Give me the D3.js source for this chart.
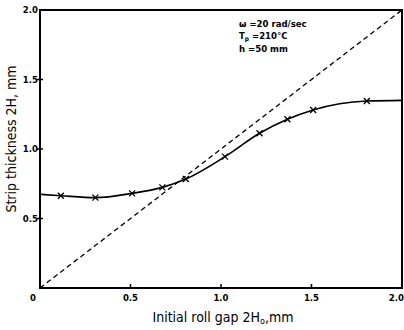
<!DOCTYPE html>
<html>
<head>
<meta charset="utf-8">
<script src="https://cdn.jsdelivr.net/npm/d3@7"></script>
<style>
  body { margin: 0; background: #fff; }
  svg { display: block; }
  .tick-label { font-family: "DejaVu Sans Condensed", "Liberation Sans Narrow", sans-serif; font-weight: bold; font-size: 9.5px; }
  .title { font-family: "DejaVu Sans Condensed", "Liberation Sans Narrow", sans-serif; font-size: 14px; }
  .note { font-family: "DejaVu Sans Condensed", sans-serif; font-weight: bold; font-size: 9.5px; }
</style>
</head>
<body>
<div id="chart"></div>
<script>
// measured curve: initial roll gap 2Ho (mm) vs strip thickness 2H (mm)
const gapValues = [0, 0.115, 0.306, 0.509, 0.676, 0.806, 1.022, 1.213, 1.367, 1.509, 1.806, 2.0];
const thicknessValues = [0.674, 0.664, 0.650, 0.681, 0.724, 0.784, 0.945, 1.113, 1.214, 1.281, 1.345, 1.35];
// indices of points drawn with an "x" marker
const markedPoints = [1, 2, 3, 4, 5, 6, 7, 8, 9, 10];
// 2H = 2Ho reference line
const refLine = [0, 2];

const xTicks = [0, 0.5, 1.0, 1.5, 2.0];
const xTickLabels = ['0', '0.5', '1.0', '1.5', '2.0'];
const yTicks = [0.5, 1.0, 1.5, 2.0];
const yTickLabels = ['0.5', '1.0', '1.5', '2.0'];

const W = 404, H = 330;
const margin = { top: 10, right: 2, bottom: 42, left: 40 };

const svg = d3.select('#chart').append('svg')
  .attr('width', W)
  .attr('height', H);

const x = d3.scaleLinear().domain([0, 2]).range([margin.left, W - margin.right]);
const y = d3.scaleLinear().domain([0, 2]).range([H - margin.bottom, margin.top]);

// frame
svg.append('rect')
  .attr('x', x(0)).attr('y', y(2))
  .attr('width', x(2) - x(0)).attr('height', y(0) - y(2))
  .attr('fill', 'none').attr('stroke', '#000').attr('stroke-width', 2);

// ticks
svg.selectAll('.xtick').data(xTicks.slice(1, -1)).enter().append('line')
  .attr('x1', d => x(d)).attr('x2', d => x(d))
  .attr('y1', y(0)).attr('y2', y(0) - 4)
  .attr('stroke', '#000').attr('stroke-width', 1.5);
svg.selectAll('.ytick').data(yTicks.slice(0, -1)).enter().append('line')
  .attr('x1', x(0) - 3).attr('x2', x(0) + 3)
  .attr('y1', d => y(d)).attr('y2', d => y(d))
  .attr('stroke', '#000').attr('stroke-width', 1.5);

// tick labels
svg.selectAll('.xl').data(xTicks).enter().append('text')
  .attr('class', 'tick-label')
  .attr('x', (d, i) => i === 0 ? x(d) - 7 : x(d))
  .attr('y', y(0) + 13)
  .attr('text-anchor', (d, i) => i === xTicks.length - 1 ? 'end' : 'middle')
  .attr('dx', (d, i) => i === xTicks.length - 1 ? 2 : 0)
  .text((d, i) => xTickLabels[i]);
svg.selectAll('.yl').data(yTicks).enter().append('text')
  .attr('class', 'tick-label')
  .attr('x', x(0) - 2)
  .attr('y', d => y(d) + 3)
  .attr('text-anchor', 'end')
  .text((d, i) => yTickLabels[i]);

// dashed reference line
svg.append('line')
  .attr('x1', x(refLine[0])).attr('y1', y(refLine[0]))
  .attr('x2', x(refLine[1])).attr('y2', y(refLine[1]))
  .attr('stroke', '#000').attr('stroke-width', 1.3)
  .attr('stroke-dasharray', '5,3.5');

// measured curve
const pts = gapValues.map((g, i) => [g, thicknessValues[i]]);
const line = d3.line()
  .x(d => x(d[0])).y(d => y(d[1]))
  .curve(d3.curveMonotoneX);
svg.append('path')
  .datum(pts)
  .attr('d', line)
  .attr('fill', 'none').attr('stroke', '#000').attr('stroke-width', 1.6);

// x markers
const s = 3;
const marks = svg.selectAll('.mk').data(markedPoints.map(i => pts[i])).enter().append('g')
  .attr('transform', d => `translate(${x(d[0])},${y(d[1])})`);
marks.append('path')
  .attr('d', `M${-s},${-s}L${s},${s}M${-s},${s}L${s},${-s}`)
  .attr('stroke', '#000').attr('stroke-width', 1.3);

// axis titles
svg.append('text')
  .attr('class', 'title')
  .attr('x', (x(0) + x(2)) / 2 + 2)
  .attr('y', H - 8)
  .attr('text-anchor', 'middle')
  .html('Initial roll gap 2H<tspan font-size="9" dy="2">o</tspan><tspan dy="-2">,mm</tspan>');
svg.append('text')
  .attr('class', 'title')
  .attr('transform', `translate(16,${(y(0) + y(2)) / 2 - 10}) rotate(-90)`)
  .attr('text-anchor', 'middle')
  .text('Strip thickness 2H, mm');

// condition notes
const notes = svg.append('g').attr('class', 'note');
notes.append('text').attr('x', 239).attr('y', 27).text('ω =20 rad/sec');
notes.append('text').attr('x', 239).attr('y', 39)
  .html('T<tspan font-size="6.5" dy="1.5">p</tspan><tspan dy="-1.5"> =210°C</tspan>');
notes.append('text').attr('x', 239).attr('y', 52).text('h =50 mm');
</script>
</body>
</html>
